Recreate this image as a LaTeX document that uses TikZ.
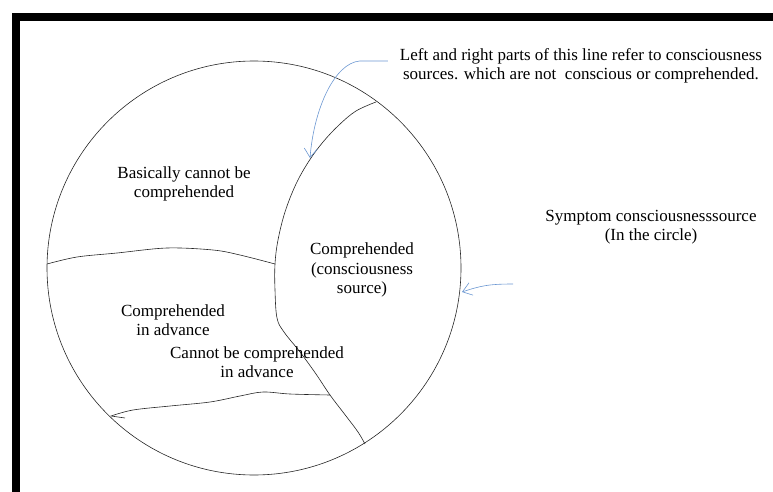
\documentclass[tikz,border=0pt]{standalone}
\usepackage{fontspec}
\setmainfont{Liberation Serif}
\usepackage{tikz}
\usetikzlibrary{arrows.meta,positioning}
\definecolor{wordblue}{HTML}{6B97D2}
\tikzset{
  frame/.style={line width=8pt,line join=miter},
  border/.style={semithick,black!85},
  region/.style={semithick,black!85},
  pointer/.style={wordblue,semithick,-{Straight Barb[length=9pt,width=13pt]}},
  txt/.style={align=center,inner sep=0pt,font=\fontsize{17}{19.5}\selectfont}
}

\begin{document}
\begin{tikzpicture}[x=1pt,y=-1pt]
  \useasboundingbox (0,0) rectangle (773,492);
  \draw[frame] (16,492) -- (16,17) -- (773,17);

  \coordinate (c) at (254,268);
  \draw[border] (c) circle[radius=207pt];

  % boundary of the comprehended part
  \draw[region] plot[smooth,tension=0.6] coordinates {(376,102) (356,111) (339,125) (323,142) (309,161) (296,184)
    (285,212) (278,240) (275,264) (275,290) (277,318) (284,332) (300,352) (316,374) (330,395) (346,416) (358,432) (365,444)};
  \draw[region] plot[smooth,tension=0.55] coordinates {(47,264) (77,257) (117,253) (167,248) (213,250) (240,255) (275,264)};
  \draw[region] plot[smooth,tension=0.55] coordinates {(330,395) (290,394) (263,392) (240,396) (210,402) (170,406) (133,410) (111,416)}
    -- (125,418);

  \node[txt] (note) at (581,66) {Left and right parts of this line refer to consciousness\\sources. which are not\ \ conscious or comprehended.};
  \node[txt] (symptom) at (651,227) {Symptom consciousnesssource\\(In the circle)};
  \node[txt] (basic) at (184,184) {Basically cannot be\\comprehended};
  \node[txt] (comp) at (362,270) {Comprehended\\(consciousness\\source)};
  \node[txt] (adv) at (173,320) {Comprehended\\in advance};
  \node[txt] (notadv) at (257,362) {Cannot be comprehended\\in advance};

  \coordinate (a1s) at ([xshift=-12pt,yshift=5pt]note.west);
  \coordinate (a1e) at (310,158);
  \coordinate (a2s) at (513,284);
  \coordinate (a2e) at (462,292);
  \draw[pointer] (a1s) -- ++(-28,0) .. controls +(-25,2) and +(4,-50) .. (a1e);
  \draw[pointer] (a2s) .. controls +(-25,0) and +(18,-6) .. (a2e);
\end{tikzpicture}
\end{document}
